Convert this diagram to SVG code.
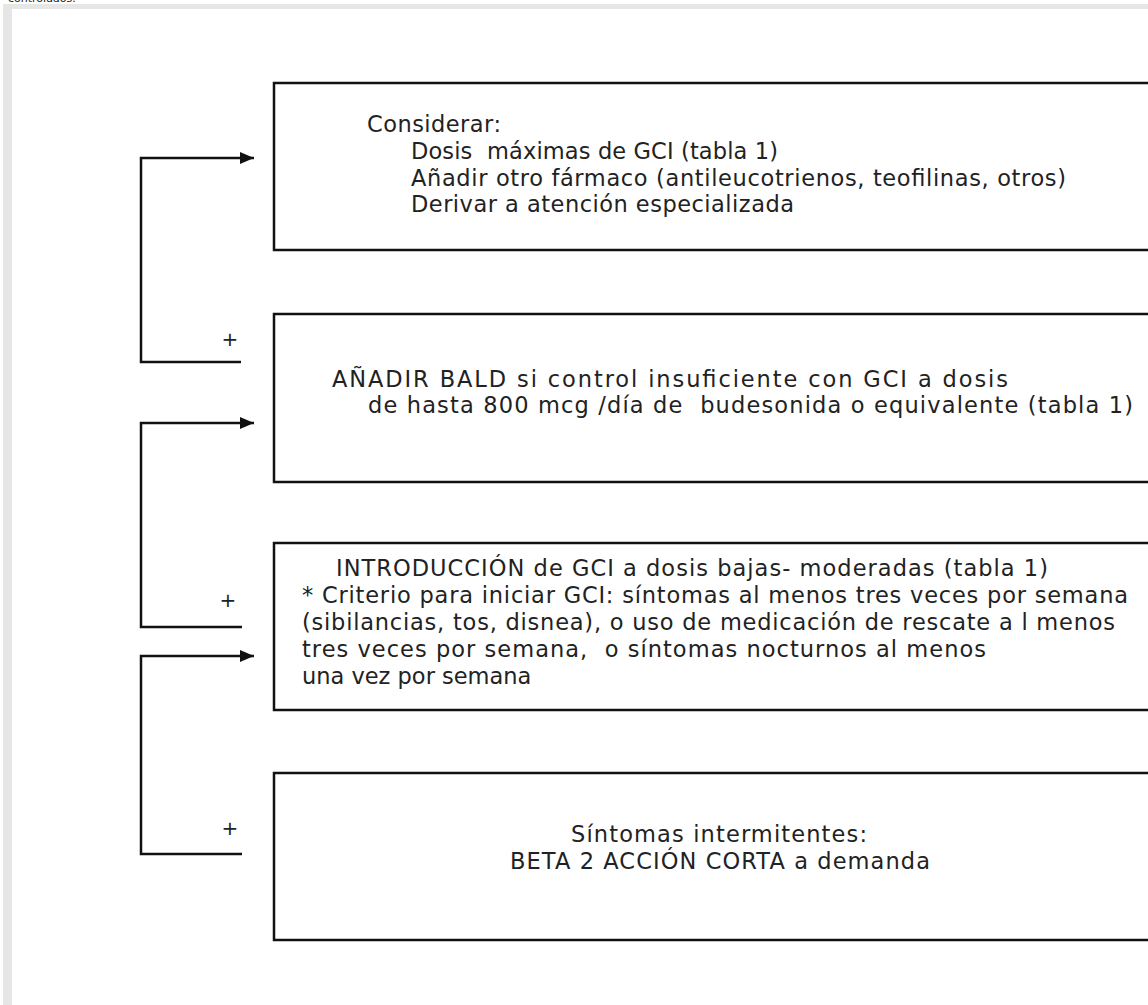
<svg xmlns="http://www.w3.org/2000/svg" width="1148" height="1005" viewBox="0 0 1148 1005">
<defs>
<style>
.t{font-family:"DejaVu Sans",Verdana,sans-serif;font-size:22.5px;fill:#222;white-space:pre}
.p{font-family:"DejaVu Sans",Verdana,sans-serif;font-size:20px;fill:#222;text-anchor:middle}
.box{fill:#fff;stroke:#111;stroke-width:2.5}
.c{fill:none;stroke:#111;stroke-width:2.5}
</style>
<marker id="ah" viewBox="0 0 14 12" refX="14" refY="6" markerWidth="14" markerHeight="12" markerUnits="userSpaceOnUse" orient="auto">
<path d="M0,0 L14,6 L0,12 Z" fill="#111"/>
</marker>
</defs>
<rect x="0" y="0" width="1148" height="1005" fill="#fff"/>
<rect x="3" y="4" width="1145" height="1001" fill="#e6e6e6"/>
<rect x="12" y="9" width="1136" height="996" fill="#fff"/>
<text x="8" y="2" style="font-family:'DejaVu Sans',Verdana,sans-serif;font-size:11px;fill:#222">controlados.</text>
<g id="node1">
<rect class="box" x="274" y="83" width="900" height="167"/>
<text class="t" x="367" y="132" textLength="134" lengthAdjust="spacing">Considerar:</text>
<text class="t" x="411" y="159" textLength="367" lengthAdjust="spacing">Dosis  máximas de GCI (tabla 1)</text>
<text class="t" x="411" y="186" textLength="655" lengthAdjust="spacing">Añadir otro fármaco (antileucotrienos, teofilinas, otros)</text>
<text class="t" x="411" y="212" textLength="383" lengthAdjust="spacing">Derivar a atención especializada</text>
</g>
<g id="node2">
<rect class="box" x="274" y="314" width="900" height="168"/>
<text class="t" x="332" y="387" textLength="676" lengthAdjust="spacing">AÑADIR BALD si control insuficiente con GCI a dosis</text>
<text class="t" x="368" y="413" textLength="765" lengthAdjust="spacing">de hasta 800 mcg /día de  budesonida o equivalente (tabla 1)</text>
</g>
<g id="node3">
<rect class="box" x="274" y="543" width="900" height="167"/>
<text class="t" x="336" y="576" textLength="712" lengthAdjust="spacing">INTRODUCCIÓN de GCI a dosis bajas- moderadas (tabla 1)</text>
<text class="t" x="302" y="603" textLength="826" lengthAdjust="spacing">* Criterio para iniciar GCI: síntomas al menos tres veces por semana</text>
<text class="t" x="302" y="630" textLength="813" lengthAdjust="spacing">(sibilancias, tos, disnea), o uso de medicación de rescate a l menos</text>
<text class="t" x="302" y="657" textLength="684" lengthAdjust="spacing">tres veces por semana,  o síntomas nocturnos al menos</text>
<text class="t" x="302" y="684">una vez por semana</text>
</g>
<g id="node4">
<rect class="box" x="274" y="773" width="900" height="167"/>
<text class="t" x="571" y="842" textLength="296" lengthAdjust="spacing">Síntomas intermitentes:</text>
<text class="t" x="510" y="869" textLength="420" lengthAdjust="spacing">BETA 2 ACCIÓN CORTA a demanda</text>
</g>
<g id="connectors">
<path class="c" d="M241,362 H141 V158 H254" marker-end="url(#ah)"/>
<path class="c" d="M242,627 H141 V423 H254" marker-end="url(#ah)"/>
<path class="c" d="M242,854 H141 V656 H254" marker-end="url(#ah)"/>
<text class="p" x="230" y="346">+</text>
<text class="p" x="228" y="607">+</text>
<text class="p" x="230" y="835">+</text>
</g>
</svg>
